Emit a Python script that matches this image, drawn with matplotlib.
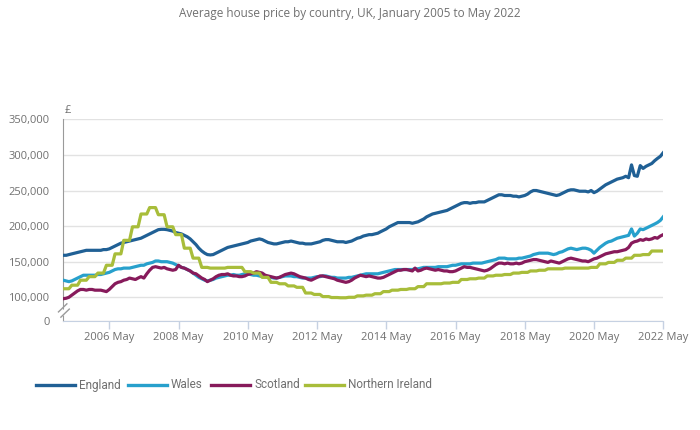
import numpy as np
import pandas as pd
import matplotlib
matplotlib.use("Agg")
import matplotlib.pyplot as plt
import matplotlib.dates as mdates
from matplotlib.lines import Line2D
from matplotlib.patches import Polygon


# average price, £ thousands, monthly Jan 2005 - May 2022
england = [
    159, 159, 160, 161, 162, 163, 164, 165, 166, 166, 166, 166,
    166, 166, 167, 167, 168, 170, 172, 174, 176, 177, 178, 179,
    180, 181, 182, 183, 185, 187, 189, 191, 193, 195, 195.5, 195.5,
    195, 194, 193, 191, 190, 189, 187, 185, 182, 178, 174, 169,
    165, 162, 160, 159.5, 160, 162, 164, 166, 168, 170, 171, 172,
    173, 174, 175, 176, 177, 179, 180, 181, 182, 181, 179, 177,
    176, 175, 175, 176, 177, 178, 178, 179, 178, 177, 176, 176,
    175, 175, 175, 176, 177, 178, 180, 181, 181, 180, 179, 178,
    178, 178, 177, 178, 179, 181, 183, 184, 186, 187, 188, 188,
    189, 190, 192, 194, 196, 199, 201, 203, 205, 205, 205, 205,
    205, 204, 205, 206, 208, 210, 213, 215, 217, 218, 219, 220,
    221, 222, 224, 226, 228, 230, 232, 233, 233, 232, 233, 233,
    234, 234, 234, 236, 238, 240, 242, 244, 244, 243, 243, 243,
    242, 242, 241, 242, 243, 245, 248, 250, 250, 249, 248, 247,
    246, 245, 244, 243, 244, 246, 248, 250, 251, 251, 250, 249,
    249, 249, 248, 250, 247, 249, 252, 255, 258, 260, 262, 264,
    266, 267, 268, 270, 268, 286, 271, 270, 285, 281, 284, 286,
    288, 292, 295, 298, 303,
]
wales = [
    124, 123, 122, 123, 125, 127, 129, 131, 131, 131, 131, 131,
    132, 132, 133, 134, 135, 137, 139, 140, 140, 141, 141, 141,
    142, 143, 144, 145, 145, 147, 148, 149, 151, 151, 150, 150,
    150, 149, 148, 146, 144, 142, 141, 139, 137, 134, 131, 128,
    126, 124, 123, 124, 125, 127, 128, 129, 130, 131, 131, 132,
    131, 131, 132, 133, 133, 132, 131, 131, 130, 129, 129, 128,
    128, 127, 127, 128, 129, 130, 130, 130, 129, 129, 128, 127,
    127, 127, 127, 128, 129, 129, 130, 130, 129, 128, 128, 127,
    127, 127, 127, 128, 128, 129, 130, 131, 132, 133, 133, 133,
    133, 133, 134, 135, 136, 137, 138, 139, 139, 139, 139, 139,
    139, 139, 140, 140, 141, 142, 142, 142, 142, 142, 143, 143,
    143, 143, 144, 145, 145, 146, 147, 147, 147, 147, 148, 148,
    148, 148, 149, 150, 151, 152, 153, 155, 155, 155, 154, 154,
    154, 154, 155, 155, 156, 157, 158, 160, 161, 162, 162, 162,
    162, 161, 160, 161, 163, 164, 166, 168, 169, 168, 167, 168,
    169, 169, 168, 166, 162, 166, 170, 173, 176, 178, 179, 181,
    183, 184, 185, 186, 187, 196, 186, 190, 196, 195, 197, 199,
    201, 203, 205, 208, 213,
]
scotland = [
    94, 96, 100, 103, 106, 109, 111, 111, 110, 111, 111, 110,
    110, 110, 109, 108, 111, 115, 119, 121, 122, 124, 125, 127,
    126, 125, 127, 129, 127, 133, 138, 142, 143, 142, 141, 142,
    140, 139, 138, 139, 145, 142, 141, 139, 137, 134, 133, 130,
    127, 125, 122, 124, 126, 129, 131, 132, 132, 133, 131, 130,
    130, 129, 129, 130, 132, 133, 134, 136, 135, 134, 131, 130,
    129, 128, 127, 128, 130, 132, 133, 134, 133, 131, 129, 128,
    127, 125, 124, 126, 128, 130, 130, 129, 128, 127, 126, 124,
    123, 122, 121, 122, 124, 127, 129, 131, 130, 129, 130, 129,
    128, 127, 127, 128, 130, 132, 134, 136, 138, 138, 139, 139,
    138, 137, 141, 137, 138, 140, 141, 140, 139, 138, 139, 138,
    137, 137, 136, 136, 137, 139, 141, 143, 142, 142, 141, 140,
    139, 138, 137, 138, 140, 143, 146, 148, 148, 147, 148, 147,
    147, 148, 147, 148, 150, 151, 152, 153, 153, 152, 151, 150,
    149, 151, 150, 149, 148, 150, 152, 154, 155, 154, 153, 152,
    151, 151, 150, 152, 154, 155, 157, 159, 161, 162, 163, 164,
    164, 165, 166, 167, 170, 176, 178, 179, 181, 180, 182, 181,
    182, 184, 183, 186, 188,
]
# Northern Ireland is only published quarterly
ni_quarterly = [
    112, 117, 124, 129,
    134, 145, 161, 180,
    199, 217, 226, 216,
    199, 188, 169, 155,
    142, 141, 141, 142,
    142, 136, 134, 128,
    121, 119, 116, 114,
    106, 104, 101, 99,
    98, 100, 102, 103,
    105, 108, 110, 111,
    112, 115, 119, 119,
    120, 121, 125, 126,
    127, 130, 131, 132,
    134, 135, 137, 138,
    140, 140, 141, 141,
    141, 142, 147, 149,
    152, 155, 159, 160,
    165, 165,
]

series_names = ["England", "Wales", "Scotland", "Northern Ireland"]
series_colors = ["#206095", "#27a0cc", "#871a5b", "#a8bd3a"]
ytick_vals = [0, 100000, 150000, 200000, 250000, 300000, 350000]
xtick_years = list(range(2006, 2023, 2))

months = pd.date_range("2005-01-01", periods=len(england), freq="MS")
ni_monthly = np.repeat(ni_quarterly, 3)[:len(months)]
all_series = [england, wales, scotland, ni_monthly]

GREY = "#707070"
plt.rcParams["font.family"] = ["Open Sans", "DejaVu Sans"]


# y axis is broken between 0 and 100,000
def fwd(y):
    y = np.asarray(y, dtype=float)
    return np.where(y >= 100000, y, 66700 + y * 0.333)


def inv(t):
    t = np.asarray(t, dtype=float)
    return np.where(t >= 100000, t, (t - 66700) / 0.333)


fig = plt.figure(figsize=(7, 4.3), dpi=100)
ax = fig.add_axes([0.0904, 0.2535, 0.857, 0.469])
ax.set_yscale("function", functions=(fwd, inv))

for name, vals, col in zip(series_names, all_series, series_colors):
    ax.plot(months, np.asarray(vals) * 1000, color=col, lw=2.3,
            solid_joinstyle="round", label=name, zorder=3)

ax.set_xlim(months[0], months[-1])
ax.set_ylim(0, 350000)
ax.set_yticks(ytick_vals)
ax.set_yticklabels([f"{v:,}" for v in ytick_vals])
ax.set_xticks([pd.Timestamp(f"{y}-05-01") for y in xtick_years])
ax.xaxis.set_major_formatter(mdates.DateFormatter("%Y %b"))

ax.grid(axis="y", color="#e2e2e2", lw=1, zorder=0)
ax.set_axisbelow(True)
for s in ["top", "right"]:
    ax.spines[s].set_visible(False)
ax.spines["left"].set_color("#9a9a9a")
ax.spines["bottom"].set_color("#c6d1e2")
ax.tick_params(axis="y", length=0, pad=10, labelsize=8, labelcolor=GREY)
ax.tick_params(axis="x", length=6, width=1, color="#c6d1e2", pad=2,
               labelsize=8, labelcolor=GREY)

# axis break marker
gap = Polygon([(-0.008, 0.035), (0.006, 0.071), (0.009, 0.051), (-0.003, 0.017)],
              closed=True, transform=ax.transAxes, facecolor="white",
              edgecolor="none", clip_on=False, zorder=5)
ax.add_patch(gap)
for dx, dy in [(0.0, 0.0), (0.004, -0.026)]:
    ax.add_line(Line2D([-0.008 + dx, 0.006 + dx], [0.045 + dy, 0.085 + dy],
                       transform=ax.transAxes, color="#9a9a9a", lw=1,
                       clip_on=False, zorder=6))

ax.text(0.002, 1.015, "£", transform=ax.transAxes, ha="left", va="bottom",
        fontsize=8, color=GREY)

fig.text(0.5, 1 - 13 / 430, "Average house price by country, UK, January 2005 to May 2022",
         ha="center", va="center", fontsize=8.5, color=GREY)

# legend laid out by hand so the keys sit where the original has them
W, H = 700, 430
legend_x = [36, 128, 211, 305]   # px, left end of each key line
ly = 1 - 385 / H
for x0, name, col in zip(legend_x, series_names, series_colors):
    fig.add_artist(Line2D([x0 / W, (x0 + 39) / W], [ly, ly],
                          transform=fig.transFigure, color=col, lw=2.4))
    fig.text((x0 + 43) / W, ly, name, ha="left", va="center",
             fontsize=8.5, color=GREY, family=["Roboto", "DejaVu Sans"])

fig.savefig("out.png", dpi=100)
